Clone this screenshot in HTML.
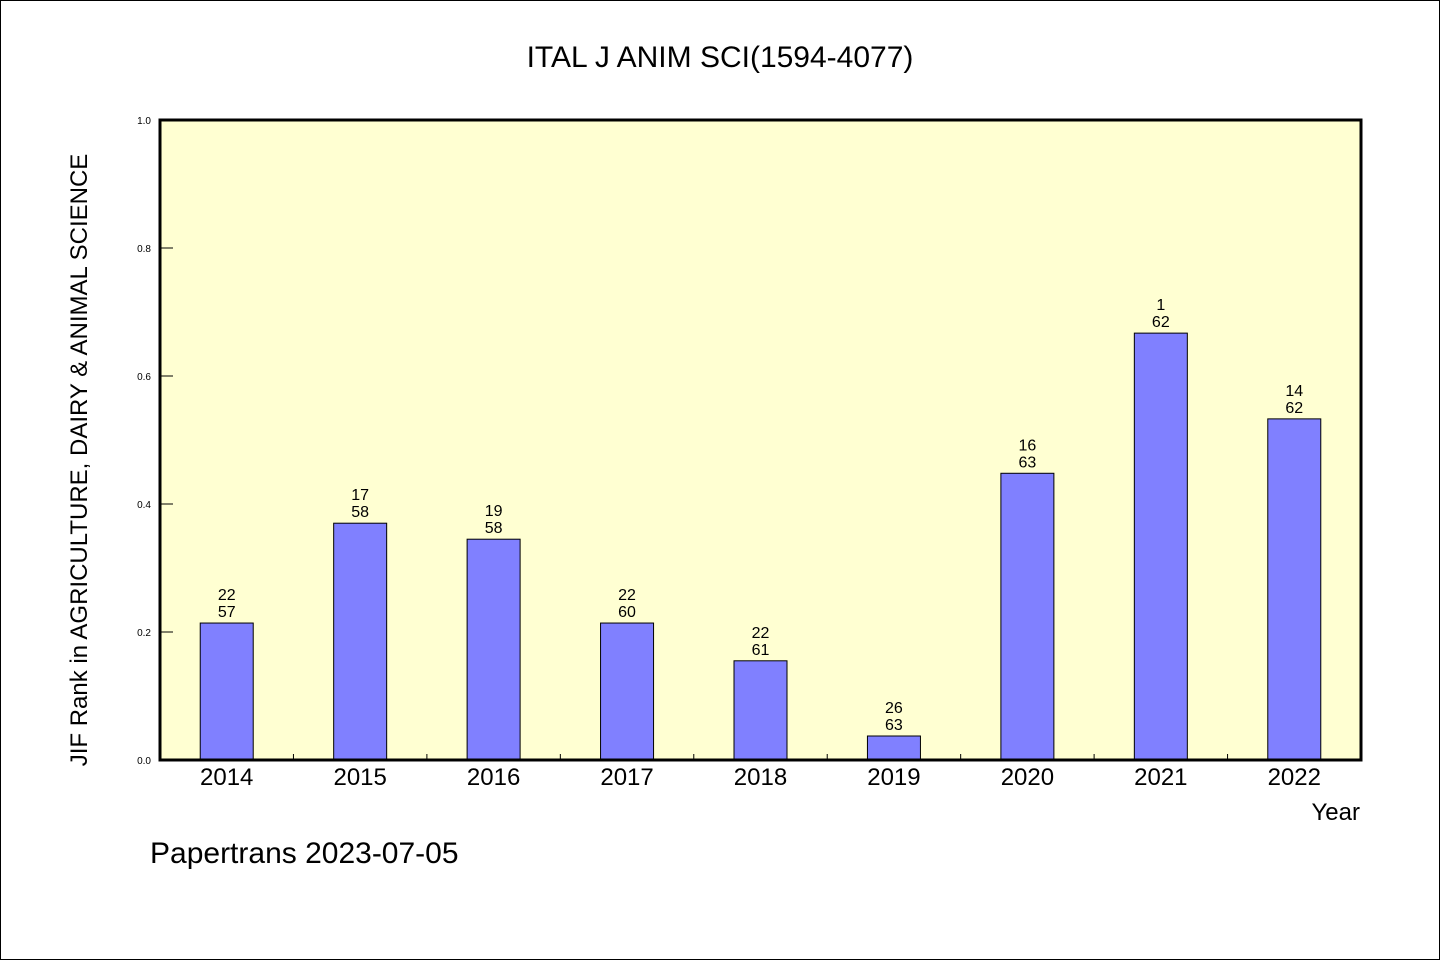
<!DOCTYPE html>
<html><head><meta charset="utf-8">
<style>
html,body{margin:0;padding:0;background:#fff;}
svg text{font-family:"WenQuanYi Zen Hei","Liberation Sans",sans-serif;fill:#000;}
</style></head>
<body>
<svg id="chart" width="1440" height="960" xmlns="http://www.w3.org/2000/svg">
<rect x="0.5" y="0.5" width="1439" height="959" fill="#fff" stroke="#000"/>
<text x="720" y="67" font-size="30" text-anchor="middle">ITAL J ANIM SCI(1594-4077)</text>
<rect x="160" y="120" width="1201" height="640" fill="#ffffd2"/>
<g id="bars"></g>
<g id="axes"></g>
<rect x="160" y="120" width="1201" height="640" fill="none" stroke="#000" stroke-width="3"/>
<text transform="translate(87,460) rotate(-90)" font-size="24" text-anchor="middle">JIF Rank in AGRICULTURE, DAIRY &amp; ANIMAL SCIENCE</text>
<text x="1360" y="820" font-size="24" text-anchor="end">Year</text>
<text x="150" y="863" font-size="30">Papertrans 2023-07-05</text>
</svg>
<script>
const years = ["2014","2015","2016","2017","2018","2019","2020","2021","2022"];
const values = [0.214,0.370,0.345,0.214,0.155,0.0375,0.448,0.667,0.533];
const ranks = ["22","17","19","22","22","26","16","1","14"];
const totals = ["57","58","58","60","61","63","63","62","62"];
const yTicks = ["0.0","0.2","0.4","0.6","0.8","1.0"];
const NS="http://www.w3.org/2000/svg";
const X0=160,X1=1361,Y0=760,Y1=120;
const step=(X1-X0)/years.length;
function xc(i){return X0+step*(i+0.5);}
function yv(v){return Y0-(Y0-Y1)*v;}
function mk(t,a){const e=document.createElementNS(NS,t);for(const k in a)e.setAttribute(k,a[k]);return e;}
const bars=document.getElementById('bars'),axes=document.getElementById('axes');
years.forEach((yr,i)=>{
  const top=yv(values[i]);
  const r=mk('rect',{x:xc(i)-26.5,y:top,width:53,height:Y0-top,fill:'#8080ff',stroke:'#000','stroke-width':1});
  
  
  bars.appendChild(r);
  const t1=mk('text',{x:xc(i),y:top-23,'font-size':16,'text-anchor':'middle'});t1.textContent=ranks[i];
  
  
  bars.appendChild(t1);
  const t2=mk('text',{x:xc(i),y:top-6,'font-size':16,'text-anchor':'middle'});t2.textContent=totals[i];
  
  
  bars.appendChild(t2);
  const xl=mk('text',{x:xc(i),y:785,'font-size':24,'text-anchor':'middle'});xl.textContent=yr;
  
  
  axes.appendChild(xl);
  if(i>0){
    const tk=mk('line',{x1:X0+step*i,x2:X0+step*i,y1:Y0,y2:Y0-6,stroke:'#000','stroke-width':1});
    
    
    axes.appendChild(tk);
  }
});
yTicks.forEach(lbl=>{
  const y=yv(parseFloat(lbl));
  const tk=mk('line',{x1:X0,x2:X0+13,y1:y,y2:y,stroke:'#000','stroke-width':1});
  
  
  axes.appendChild(tk);
  const t=mk('text',{x:151,y:y+4,'font-size':10,'text-anchor':'end'});t.textContent=lbl;
  
  
  axes.appendChild(t);
});
</script>
</body></html>
